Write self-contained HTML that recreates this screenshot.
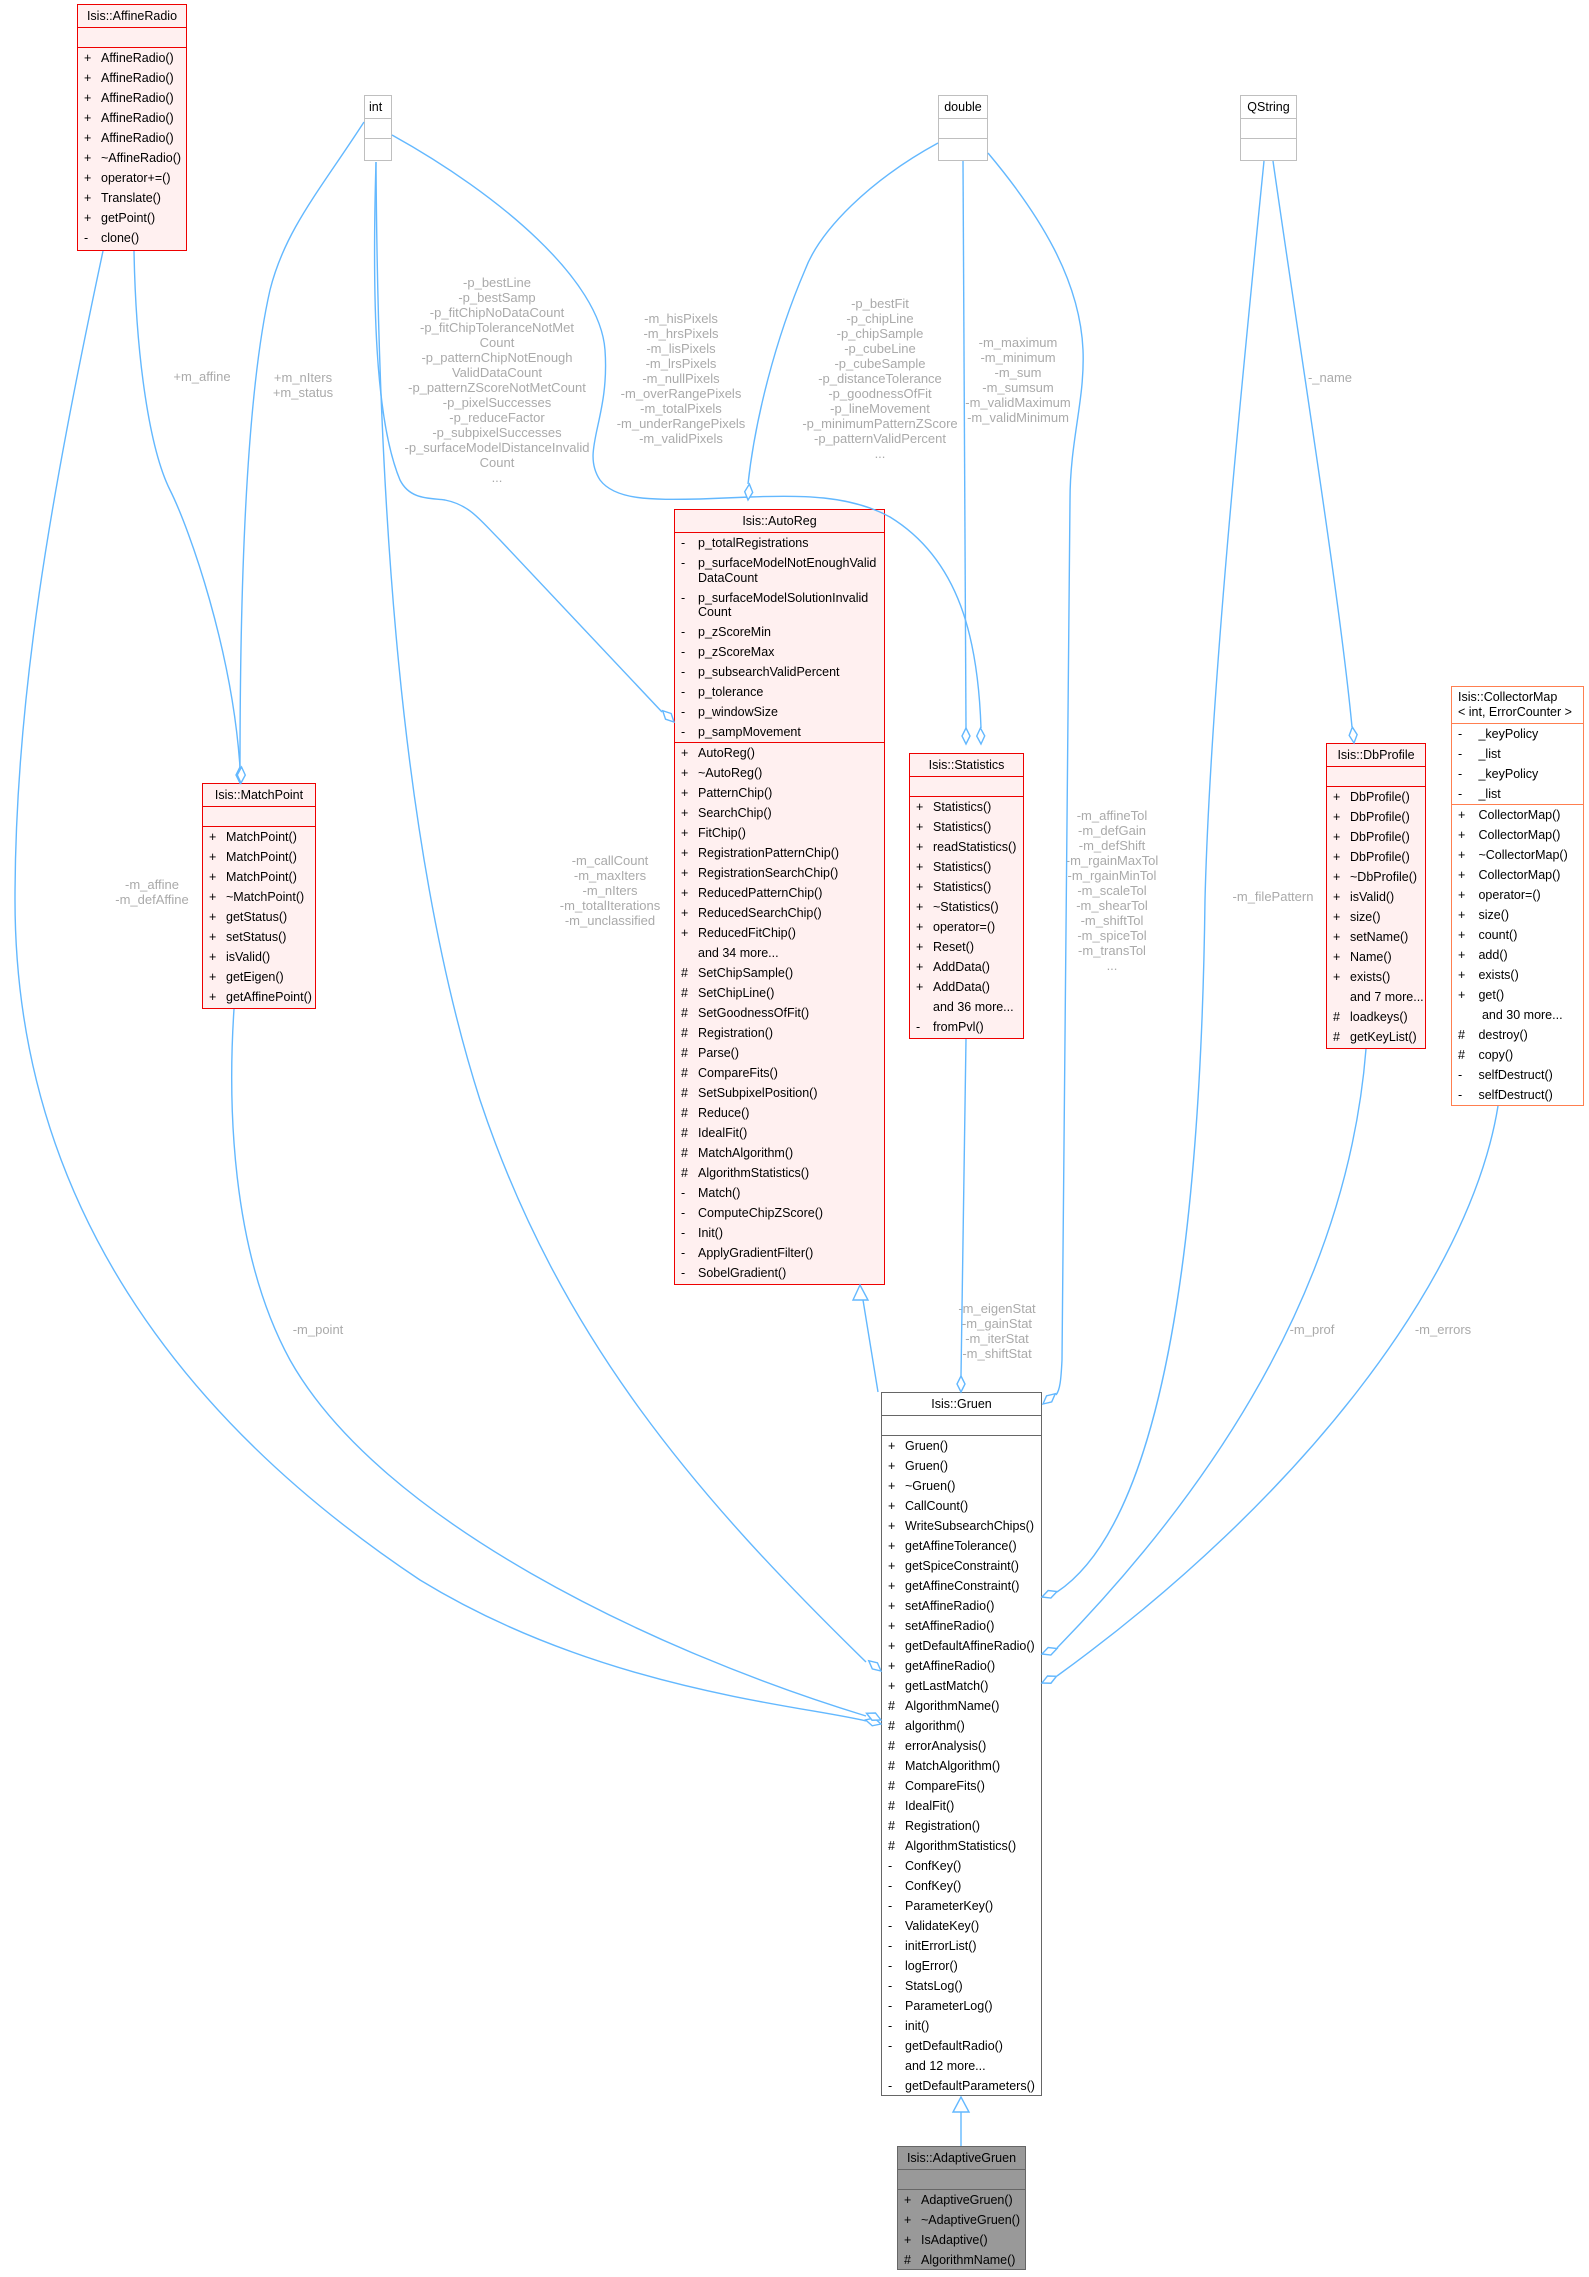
<!DOCTYPE html>
<html><head><meta charset="utf-8"><style>
body{margin:0;width:1589px;height:2277px;background:#fff;position:relative;overflow:hidden;font-family:"Liberation Sans",Arial,sans-serif}
.box{position:absolute;box-sizing:border-box;border:1.5px solid #e00;background:#fff0f0;font-size:12.5px;color:#000;z-index:2}
.t{text-align:center;height:22px;line-height:22px;border-bottom:1.5px solid #e00;white-space:nowrap}
.e{height:19px;border-bottom:1.5px solid #e00}
.r{height:20px;line-height:20px;padding-left:6px;white-space:nowrap}
.r b{display:inline-block;width:17px;font-weight:normal}
.d{height:34.5px;line-height:14.5px;padding-top:3px;box-sizing:border-box}
.d b{vertical-align:top}
.d span{display:inline-block}
.sec{border-bottom:1.5px solid #e00}
.prim{border-color:#bfbfbf;background:#fff}
.prim .t,.prim .e{border-color:#bfbfbf}
.gray{border-color:#666;background:#fff}
.gray .t,.gray .e{border-color:#666}
.dark{border-color:#666;background:#999}
.dark .t,.dark .e{border-color:#666}
.org{border-color:#ff7f50;background:#fff}
.org .t,.org .sec{border-color:#ff7f50}
.lb{position:absolute;color:#aaa;font-size:13px;line-height:15px;text-align:center;white-space:nowrap;transform:translateX(-50%);z-index:1}
svg{position:absolute;left:0;top:0;z-index:3}
</style></head><body>

<div class="box" style="left:77px;top:4px;width:110px;height:247px">
<div class="t">Isis::AffineRadio</div><div class="e"></div>
<div class="r"><b>+</b>AffineRadio()</div><div class="r"><b>+</b>AffineRadio()</div><div class="r"><b>+</b>AffineRadio()</div><div class="r"><b>+</b>AffineRadio()</div><div class="r"><b>+</b>AffineRadio()</div><div class="r"><b>+</b>~AffineRadio()</div><div class="r"><b>+</b>operator+=()</div><div class="r"><b>+</b>Translate()</div><div class="r"><b>+</b>getPoint()</div><div class="r"><b>-</b>clone()</div>
</div>

<div class="box prim" style="left:364px;top:95px;width:28px;height:66px"><div class="t" style="text-align:left;padding-left:4px">int</div><div class="e"></div></div>
<div class="box prim" style="left:938px;top:95px;width:50px;height:66px"><div class="t">double</div><div class="e"></div></div>
<div class="box prim" style="left:1240px;top:95px;width:57px;height:66px"><div class="t">QString</div><div class="e"></div></div>

<div class="box" style="left:202px;top:783px;width:114px;height:226px">
<div class="t">Isis::MatchPoint</div><div class="e"></div>
<div class="r"><b>+</b>MatchPoint()</div><div class="r"><b>+</b>MatchPoint()</div><div class="r"><b>+</b>MatchPoint()</div><div class="r"><b>+</b>~MatchPoint()</div><div class="r"><b>+</b>getStatus()</div><div class="r"><b>+</b>setStatus()</div><div class="r"><b>+</b>isValid()</div><div class="r"><b>+</b>getEigen()</div><div class="r"><b>+</b>getAffinePoint()</div>
</div>

<div class="box" style="left:674px;top:509px;width:211px;height:776px;font-size:12.5px">
<div class="t">Isis::AutoReg</div>
<div class="sec">
<div class="r"><b>-</b>p_totalRegistrations</div>
<div class="r d"><b>-</b><span>p_surfaceModelNotEnoughValid<br>DataCount</span></div>
<div class="r d"><b>-</b><span>p_surfaceModelSolutionInvalid<br>Count</span></div>
<div class="r"><b>-</b>p_zScoreMin</div><div class="r"><b>-</b>p_zScoreMax</div><div class="r"><b>-</b>p_subsearchValidPercent</div><div class="r"><b>-</b>p_tolerance</div><div class="r"><b>-</b>p_windowSize</div><div class="r"><b>-</b>p_sampMovement</div>
</div>
<div class="r"><b>+</b>AutoReg()</div><div class="r"><b>+</b>~AutoReg()</div><div class="r"><b>+</b>PatternChip()</div><div class="r"><b>+</b>SearchChip()</div><div class="r"><b>+</b>FitChip()</div><div class="r"><b>+</b>RegistrationPatternChip()</div><div class="r"><b>+</b>RegistrationSearchChip()</div><div class="r"><b>+</b>ReducedPatternChip()</div><div class="r"><b>+</b>ReducedSearchChip()</div><div class="r"><b>+</b>ReducedFitChip()</div><div class="r"><b></b>and 34 more...</div>
<div class="r"><b>#</b>SetChipSample()</div><div class="r"><b>#</b>SetChipLine()</div><div class="r"><b>#</b>SetGoodnessOfFit()</div><div class="r"><b>#</b>Registration()</div><div class="r"><b>#</b>Parse()</div><div class="r"><b>#</b>CompareFits()</div><div class="r"><b>#</b>SetSubpixelPosition()</div><div class="r"><b>#</b>Reduce()</div><div class="r"><b>#</b>IdealFit()</div><div class="r"><b>#</b>MatchAlgorithm()</div><div class="r"><b>#</b>AlgorithmStatistics()</div>
<div class="r"><b>-</b>Match()</div><div class="r"><b>-</b>ComputeChipZScore()</div><div class="r"><b>-</b>Init()</div><div class="r"><b>-</b>ApplyGradientFilter()</div><div class="r"><b>-</b>SobelGradient()</div>
</div>

<div class="box" style="left:909px;top:753px;width:115px;height:286px">
<div class="t">Isis::Statistics</div><div class="e"></div>
<div class="r"><b>+</b>Statistics()</div><div class="r"><b>+</b>Statistics()</div><div class="r"><b>+</b>readStatistics()</div><div class="r"><b>+</b>Statistics()</div><div class="r"><b>+</b>Statistics()</div><div class="r"><b>+</b>~Statistics()</div><div class="r"><b>+</b>operator=()</div><div class="r"><b>+</b>Reset()</div><div class="r"><b>+</b>AddData()</div><div class="r"><b>+</b>AddData()</div><div class="r"><b></b>and 36 more...</div><div class="r"><b>-</b>fromPvl()</div>
</div>

<div class="box" style="left:1326px;top:743px;width:100px;height:306px">
<div class="t">Isis::DbProfile</div><div class="e"></div>
<div class="r"><b>+</b>DbProfile()</div><div class="r"><b>+</b>DbProfile()</div><div class="r"><b>+</b>DbProfile()</div><div class="r"><b>+</b>DbProfile()</div><div class="r"><b>+</b>~DbProfile()</div><div class="r"><b>+</b>isValid()</div><div class="r"><b>+</b>size()</div><div class="r"><b>+</b>setName()</div><div class="r"><b>+</b>Name()</div><div class="r"><b>+</b>exists()</div><div class="r"><b></b>and 7 more...</div><div class="r"><b>#</b>loadkeys()</div><div class="r"><b>#</b>getKeyList()</div>
</div>

<div class="box org" style="left:1451px;top:686px;width:133px;height:420px">
<div class="t" style="height:37px;line-height:15px;padding:3px 0 0 6px;box-sizing:border-box;text-align:left">Isis::CollectorMap<br>&lt; int, ErrorCounter &gt;</div>
<div class="sec"><div class="r"><b>-</b> _keyPolicy</div><div class="r"><b>-</b> _list</div><div class="r"><b>-</b> _keyPolicy</div><div class="r"><b>-</b> _list</div></div>
<div class="r"><b>+</b> CollectorMap()</div><div class="r"><b>+</b> CollectorMap()</div><div class="r"><b>+</b> ~CollectorMap()</div><div class="r"><b>+</b> CollectorMap()</div><div class="r"><b>+</b> operator=()</div><div class="r"><b>+</b> size()</div><div class="r"><b>+</b> count()</div><div class="r"><b>+</b> add()</div><div class="r"><b>+</b> exists()</div><div class="r"><b>+</b> get()</div><div class="r"><b></b>&nbsp; and 30 more...</div><div class="r"><b>#</b> destroy()</div><div class="r"><b>#</b> copy()</div><div class="r"><b>-</b> selfDestruct()</div><div class="r"><b>-</b> selfDestruct()</div>
</div>

<div class="box gray" style="left:881px;top:1392px;width:161px;height:704px">
<div class="t">Isis::Gruen</div><div class="e"></div>
<div class="r"><b>+</b>Gruen()</div><div class="r"><b>+</b>Gruen()</div><div class="r"><b>+</b>~Gruen()</div><div class="r"><b>+</b>CallCount()</div><div class="r"><b>+</b>WriteSubsearchChips()</div><div class="r"><b>+</b>getAffineTolerance()</div><div class="r"><b>+</b>getSpiceConstraint()</div><div class="r"><b>+</b>getAffineConstraint()</div><div class="r"><b>+</b>setAffineRadio()</div><div class="r"><b>+</b>setAffineRadio()</div><div class="r"><b>+</b>getDefaultAffineRadio()</div><div class="r"><b>+</b>getAffineRadio()</div><div class="r"><b>+</b>getLastMatch()</div>
<div class="r"><b>#</b>AlgorithmName()</div><div class="r"><b>#</b>algorithm()</div><div class="r"><b>#</b>errorAnalysis()</div><div class="r"><b>#</b>MatchAlgorithm()</div><div class="r"><b>#</b>CompareFits()</div><div class="r"><b>#</b>IdealFit()</div><div class="r"><b>#</b>Registration()</div><div class="r"><b>#</b>AlgorithmStatistics()</div>
<div class="r"><b>-</b>ConfKey()</div><div class="r"><b>-</b>ConfKey()</div><div class="r"><b>-</b>ParameterKey()</div><div class="r"><b>-</b>ValidateKey()</div><div class="r"><b>-</b>initErrorList()</div><div class="r"><b>-</b>logError()</div><div class="r"><b>-</b>StatsLog()</div><div class="r"><b>-</b>ParameterLog()</div><div class="r"><b>-</b>init()</div><div class="r"><b>-</b>getDefaultRadio()</div><div class="r"><b></b>and 12 more...</div><div class="r"><b>-</b>getDefaultParameters()</div>
</div>

<div class="box dark" style="left:897px;top:2146px;width:129px;height:124px">
<div class="t">Isis::AdaptiveGruen</div><div class="e"></div>
<div class="r"><b>+</b>AdaptiveGruen()</div><div class="r"><b>+</b>~AdaptiveGruen()</div><div class="r"><b>+</b>IsAdaptive()</div><div class="r"><b>#</b>AlgorithmName()</div>
</div>

<div class="lb" style="left:202px;top:369px">+m_affine</div>
<div class="lb" style="left:303px;top:370px">+m_nIters<br>+m_status</div>
<div class="lb" style="left:497px;top:275px">-p_bestLine<br>-p_bestSamp<br>-p_fitChipNoDataCount<br>-p_fitChipToleranceNotMet<br>Count<br>-p_patternChipNotEnough<br>ValidDataCount<br>-p_patternZScoreNotMetCount<br>-p_pixelSuccesses<br>-p_reduceFactor<br>-p_subpixelSuccesses<br>-p_surfaceModelDistanceInvalid<br>Count<br>...</div>
<div class="lb" style="left:681px;top:311px">-m_hisPixels<br>-m_hrsPixels<br>-m_lisPixels<br>-m_lrsPixels<br>-m_nullPixels<br>-m_overRangePixels<br>-m_totalPixels<br>-m_underRangePixels<br>-m_validPixels</div>
<div class="lb" style="left:880px;top:296px">-p_bestFit<br>-p_chipLine<br>-p_chipSample<br>-p_cubeLine<br>-p_cubeSample<br>-p_distanceTolerance<br>-p_goodnessOfFit<br>-p_lineMovement<br>-p_minimumPatternZScore<br>-p_patternValidPercent<br>...</div>
<div class="lb" style="left:1018px;top:335px">-m_maximum<br>-m_minimum<br>-m_sum<br>-m_sumsum<br>-m_validMaximum<br>-m_validMinimum</div>
<div class="lb" style="left:1112px;top:808px">-m_affineTol<br>-m_defGain<br>-m_defShift<br>-m_rgainMaxTol<br>-m_rgainMinTol<br>-m_scaleTol<br>-m_shearTol<br>-m_shiftTol<br>-m_spiceTol<br>-m_transTol<br>...</div>
<div class="lb" style="left:997px;top:1301px">-m_eigenStat<br>-m_gainStat<br>-m_iterStat<br>-m_shiftStat</div>
<div class="lb" style="left:610px;top:853px">-m_callCount<br>-m_maxIters<br>-m_nIters<br>-m_totalIterations<br>-m_unclassified</div>
<div class="lb" style="left:152px;top:877px">-m_affine<br>-m_defAffine</div>
<div class="lb" style="left:318px;top:1322px">-m_point</div>
<div class="lb" style="left:1330px;top:370px">-_name</div>
<div class="lb" style="left:1273px;top:889px">-m_filePattern</div>
<div class="lb" style="left:1312px;top:1322px">-m_prof</div>
<div class="lb" style="left:1443px;top:1322px">-m_errors</div>

<svg width="1589" height="2277" viewBox="0 0 1589 2277">
<g fill="none" stroke="#63b8ff" stroke-width="1.4">
<path d="M134,251 C136,360 150,450 170,490 C190,530 232,650 240,767"/>
<path d="M364,122 C320,190 285,230 270,290 C245,400 240,600 240,767"/>
<path d="M376,162 C372,300 375,420 400,480 C410,500 430,498 445,500 C470,505 480,520 500,540 L662,712"/>
<path d="M392,135 C500,195 600,280 605,350 C610,420 580,450 600,480 C615,500 650,500 700,499 L750,497 C800,495 850,495 890,517 C960,560 978,640 981,728"/>
<path d="M938,143 C870,180 820,230 805,270 C775,340 755,420 748,484"/>
<path d="M963,161 L966,728"/>
<path d="M988,153 C1040,215 1080,280 1083,350 C1085,400 1070,440 1070,500 L1062,1360 C1061,1380 1060,1390 1056,1395"/>
<path d="M376,162 C378,500 400,850 480,1100 C560,1340 700,1500 866,1662"/>
<path d="M103,251 C50,500 15,700 15,900 C15,1200 180,1420 420,1580 C600,1690 800,1705 866,1721"/>
<path d="M234,1009 C228,1100 230,1250 290,1360 C380,1520 650,1650 866,1716"/>
<path d="M966,1039 L961,1376"/>
<path d="M878,1392 L863,1300"/>
<path d="M1273,161 C1300,350 1340,600 1352,727"/>
<path d="M1264,161 C1240,400 1210,700 1205,900 C1200,1300 1150,1530 1057,1592"/>
<path d="M1366,1049 C1350,1250 1250,1450 1057,1648"/>
<path d="M1498,1106 C1470,1280 1300,1500 1057,1676"/>
<path d="M961,2112 L961,2146"/>
</g>
<g fill="#fff" stroke="#63b8ff" stroke-width="1.4">
<polygon points="0,0 -8,-4 -16,0 -8,4" transform="translate(240,783) rotate(90)"/>
<polygon points="0,0 -8,-4 -16,0 -8,4" transform="translate(241,783) rotate(92)"/>
<polygon points="0,0 -8,-4 -16,0 -8,4" transform="translate(674,722) rotate(45)"/>
<polygon points="0,0 -8,-4 -16,0 -8,4" transform="translate(981,744) rotate(88)"/>
<polygon points="0,0 -8,-4 -16,0 -8,4" transform="translate(966,744) rotate(90)"/>
<polygon points="0,0 -8,-4 -16,0 -8,4" transform="translate(748,500) rotate(95)"/>
<polygon points="0,0 -8,-4 -16,0 -8,4" transform="translate(1043,1404) rotate(140)"/>
<polygon points="0,0 -8,-4 -16,0 -8,4" transform="translate(881,1671) rotate(40)"/>
<polygon points="0,0 -8,-4 -16,0 -8,4" transform="translate(881,1724) rotate(15)"/>
<polygon points="0,0 -8,-4 -16,0 -8,4" transform="translate(881,1720) rotate(25)"/>
<polygon points="0,0 -8,-4 -16,0 -8,4" transform="translate(961,1392) rotate(90)"/>
<polygon points="0,0 -8,-4 -16,0 -8,4" transform="translate(1354,743) rotate(84)"/>
<polygon points="0,0 -8,-4 -16,0 -8,4" transform="translate(1042,1597) rotate(160)"/>
<polygon points="0,0 -8,-4 -16,0 -8,4" transform="translate(1042,1654) rotate(160)"/>
<polygon points="0,0 -8,-4 -16,0 -8,4" transform="translate(1042,1683) rotate(155)"/>
<polygon points="860,1285 853,1300 868,1300"/>
<polygon points="961,2097 953,2112 969,2112"/>
</g>
</svg>
</body></html>
